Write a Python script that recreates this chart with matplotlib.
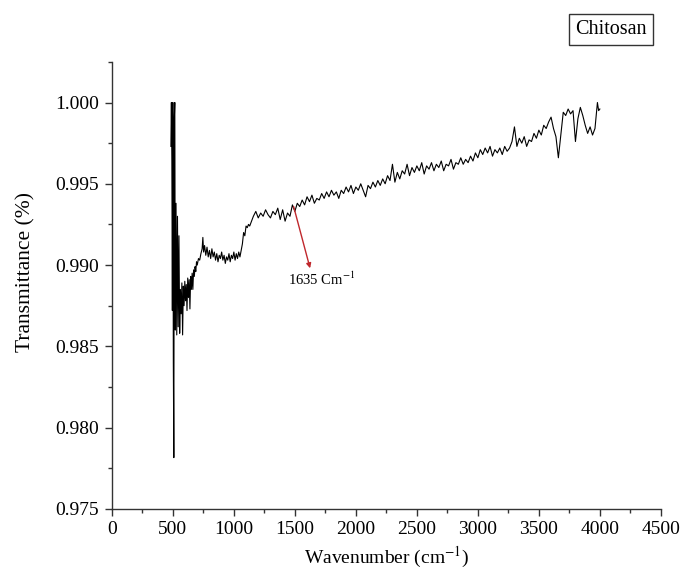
import numpy as np
import matplotlib
matplotlib.use("Agg")
import matplotlib.pyplot as plt
from matplotlib.ticker import MultipleLocator, FormatStrFormatter

plt.rcParams["font.family"] = ["Liberation Serif", "DejaVu Serif"]
plt.rcParams["mathtext.fontset"] = "stix"

# FTIR spectrum of chitosan
# low-wavenumber region (irregular sampling around the 500 cm-1 spikes)
wn_low = [484, 488, 492, 496, 500, 504, 508, 512, 516, 520,
          526, 532, 538, 544, 550, 556, 562, 568, 574, 580,
          586, 592, 598, 604, 610, 616, 622, 628, 634, 640,
          646, 652, 658, 664, 670, 676, 682, 688, 694, 700]
tr_low = [0.9973, 1.0000, 0.9964, 0.9872, 1.0000, 0.9840, 0.97815, 0.9990, 1.0000, 0.9860,
          0.9938, 0.9857, 0.9930, 0.9862, 0.9918, 0.9858, 0.9885, 0.9870, 0.9889, 0.9857,
          0.9887, 0.9875, 0.9890, 0.9878, 0.9888, 0.9872, 0.9892, 0.9880, 0.9891, 0.9873,
          0.9893, 0.9885, 0.9895, 0.9885, 0.9897, 0.9893, 0.9899, 0.9896, 0.9902, 0.9900]

# plateau around 0.9905 and the step near 1100 cm-1
wn_mid = [710, 720, 730, 740, 746, 752, 760, 770, 780, 790,
          800, 810, 820, 830, 840, 850, 860, 870, 880, 890,
          900, 910, 920, 930, 940, 950, 960, 970, 980, 990,
          1000, 1010, 1020, 1030, 1040, 1050, 1060, 1070, 1080, 1090,
          1100, 1110, 1120, 1130, 1140]
tr_mid = [0.9904, 0.9903, 0.9907, 0.9910, 0.9917, 0.9908, 0.9912, 0.9906, 0.9911, 0.9905,
          0.9909, 0.9904, 0.9910, 0.9905, 0.9908, 0.9903, 0.9907, 0.9902, 0.9906, 0.9904,
          0.9908, 0.9903, 0.9906, 0.9901, 0.9905, 0.9903, 0.9907, 0.9902, 0.9906, 0.9904,
          0.9908, 0.9903, 0.9907, 0.9904, 0.9908, 0.9905, 0.9909, 0.9913, 0.9920, 0.9918,
          0.9924, 0.9923, 0.9925, 0.9924, 0.9926]

# slowly rising, noisy part up to 4000 cm-1
wn_high = [1160, 1180, 1200, 1220, 1240, 1260, 1280, 1300, 1320, 1340,
           1360, 1380, 1400, 1420, 1440, 1460, 1480, 1500, 1520, 1540,
           1560, 1580, 1600, 1620, 1640, 1660, 1680, 1700, 1720, 1740,
           1760, 1780, 1800, 1820, 1840, 1860, 1880, 1900, 1920, 1940,
           1960, 1980, 2000, 2020, 2040, 2060, 2080, 2100, 2120, 2140,
           2160, 2180, 2200, 2220, 2240, 2260, 2280, 2300, 2320, 2340,
           2360, 2380, 2400, 2420, 2440, 2460, 2480, 2500, 2520, 2540,
           2560, 2580, 2600, 2620, 2640, 2660, 2680, 2700, 2720, 2740,
           2760, 2780, 2800, 2820, 2840, 2860, 2880, 2900, 2920, 2940,
           2960, 2980, 3000, 3020, 3040, 3060, 3080, 3100, 3120, 3140,
           3160, 3180, 3200, 3220, 3240, 3260, 3280, 3300, 3320, 3340,
           3360, 3380, 3400, 3420, 3440, 3460, 3480, 3500, 3520, 3540,
           3560, 3580, 3600, 3620, 3640, 3660, 3680, 3700, 3720, 3740,
           3760, 3780, 3800, 3820, 3840, 3860, 3880, 3900, 3920, 3940,
           3960, 3980, 3990, 4000]
tr_high = [0.9930, 0.9933, 0.9929, 0.9932, 0.9930, 0.9934, 0.9931, 0.9929, 0.9933, 0.9931,
           0.9935, 0.9928, 0.9934, 0.9927, 0.9932, 0.9930, 0.9937, 0.9933, 0.9938, 0.9936,
           0.9940, 0.9937, 0.9942, 0.9939, 0.9943, 0.9938, 0.9941, 0.9940, 0.9944, 0.9941,
           0.9945, 0.9942, 0.9946, 0.9943, 0.9945, 0.9941, 0.9946, 0.9944, 0.9948, 0.9945,
           0.9949, 0.9944, 0.9948, 0.9946, 0.9950, 0.9946, 0.9942, 0.9949, 0.9947, 0.9951,
           0.9948, 0.9952, 0.9949, 0.9953, 0.9950, 0.9955, 0.9952, 0.9962, 0.9951, 0.9957,
           0.9953, 0.9958, 0.9956, 0.9962, 0.9955, 0.9960, 0.9957, 0.9961, 0.9958, 0.9963,
           0.9956, 0.9961, 0.9959, 0.9963, 0.9958, 0.9962, 0.9960, 0.9964, 0.9958, 0.9962,
           0.9961, 0.9965, 0.9959, 0.9963, 0.9962, 0.9966, 0.9962, 0.9965, 0.9963, 0.9967,
           0.9964, 0.9969, 0.9966, 0.9971, 0.9968, 0.9972, 0.9969, 0.9973, 0.9967, 0.9971,
           0.9969, 0.9972, 0.9968, 0.9973, 0.9970, 0.9972, 0.9976, 0.9985, 0.9973, 0.9978,
           0.9975, 0.9979, 0.9973, 0.9977, 0.9976, 0.9981, 0.9978, 0.9983, 0.9980, 0.9986,
           0.9984, 0.9988, 0.9991, 0.9984, 0.9979, 0.9966, 0.9980, 0.9994, 0.9992, 0.9996,
           0.9993, 0.9995, 0.9976, 0.9990, 0.9997, 0.9992, 0.9986, 0.9981, 0.9985, 0.9980,
           0.9984, 1.0000, 0.9995, 0.9996]

# annotated band
peak_label = "1635 Cm$^{-1}$"
arrow_from = (1490, 0.9936)
arrow_to = (1625, 0.9898)
label_pos = (1720, 0.9891)

wavenumber = np.array(wn_low + wn_mid + wn_high)
transmittance = np.array(tr_low + tr_mid + tr_high)

fig = plt.figure(figsize=(6.82, 5.73), dpi=100)
ax = fig.add_axes([0.164, 0.112, 0.805, 0.780])

ax.plot(wavenumber, transmittance, color="black", lw=0.8)

ax.annotate("", xy=arrow_to, xytext=arrow_from,
            arrowprops=dict(arrowstyle="-|>", color="#c0282d", lw=1.0,
                            mutation_scale=7, shrinkA=0, shrinkB=0))
ax.text(label_pos[0], label_pos[1], peak_label, ha="center", va="center",
        fontsize=10.5)

ax.set_xlim(0, 4500)
ax.set_ylim(0.975, 1.0025)
ax.xaxis.set_major_locator(MultipleLocator(500))
ax.xaxis.set_minor_locator(MultipleLocator(250))
ax.yaxis.set_major_locator(MultipleLocator(0.005))
ax.yaxis.set_minor_locator(MultipleLocator(0.0025))
ax.yaxis.set_major_formatter(FormatStrFormatter("%.3f"))

for side in ("top", "right"):
    ax.spines[side].set_visible(False)
for side in ("left", "bottom"):
    ax.spines[side].set_color("#333333")
    ax.spines[side].set_linewidth(1.0)

ax.tick_params(which="major", direction="out", length=5, width=1.0,
               labelsize=14, color="#333333", pad=4)
ax.tick_params(which="minor", direction="out", length=3, width=1.0,
               color="#333333")

ax.set_xlabel("Wavenumber (cm$^{-1}$)", fontsize=14, labelpad=5)
ax.set_ylabel("Transmittance (%)", fontsize=15.5)
ax.yaxis.set_label_coords(-0.14, 0.53)

fig.text(0.896, 0.948, "Chitosan", ha="center", va="center", fontsize=14.5,
         bbox=dict(boxstyle="square,pad=0.3", fc="white", ec="#333333", lw=1.0))

fig.savefig("out.png", dpi=100)
